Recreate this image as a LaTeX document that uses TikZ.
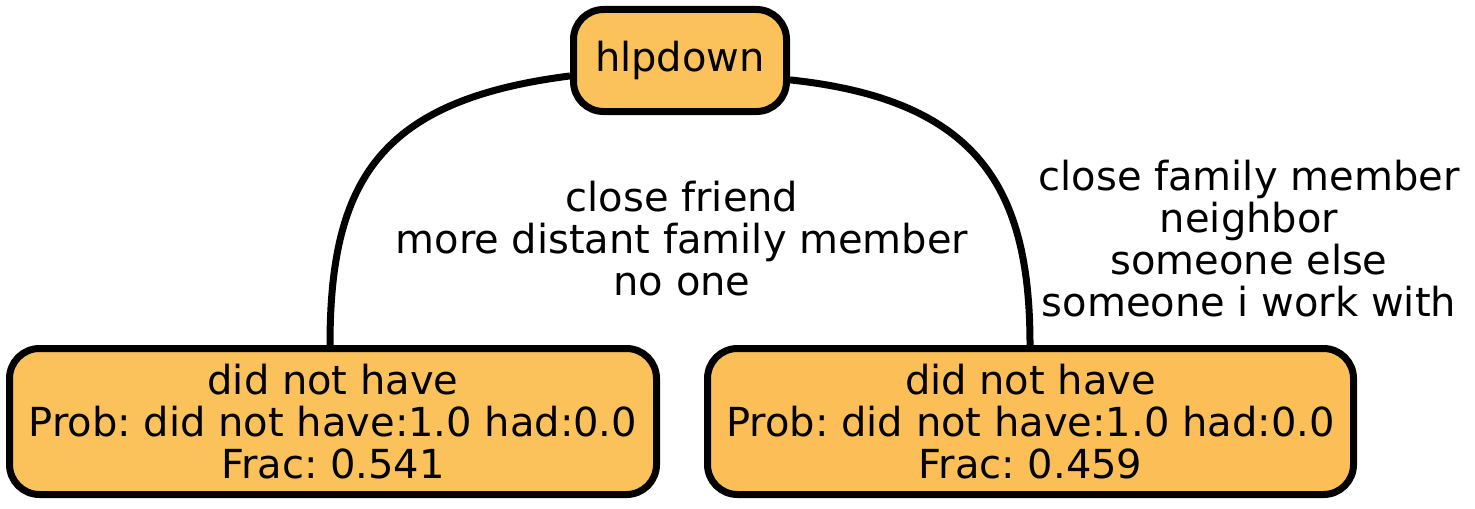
\documentclass[tikz,border=0pt]{standalone}
\usepackage{fontspec}
\setmainfont{DejaVu Sans}
\usetikzlibrary{positioning}
\definecolor{leafA}{HTML}{FBC15A}
\definecolor{leafB}{HTML}{FCBF57}
\frenchspacing

\begin{document}
\begin{tikzpicture}[x=0.5pt, y=-0.5pt,
  treenode/.style={draw, line width=3.5pt, rounded corners=15pt, align=center,
    font=\fontsize{20}{21}\selectfont, inner sep=0pt},
  edgeline/.style={line width=3.5pt},
  edgelabel/.style={align=center, font=\fontsize{20}{21}\selectfont}]
  \useasboundingbox (0,0) rectangle (1475,508);

  % Root
  \node[treenode, fill=leafA, minimum width=106.5pt, minimum height=51pt] (root) at (680,60.5) {hlpdown};

  % Leaves
  \node[treenode, fill=leafA, minimum width=323.5pt, minimum height=73pt] (leafl) at (333,421.5)
    {did not have\\Prob: did not have:1.0 had:0.0\\Frac: 0.541};
  \node[treenode, fill=leafB, minimum width=323pt, minimum height=73pt] (leafr) at (1030.5,421.5)
    {did not have\\Prob: did not have:1.0 had:0.0\\Frac: 0.459};

  % Splits
  \draw[edgeline] (root.188) .. controls (380,100) and (330,180) .. (leafl.north -| 330,0);
  \draw[edgeline] (root.-10) .. controls (980,100) and (1030,190) .. (leafr.north -| 1030,0);

  % Split labels
  \node[edgelabel] (lblleft) at (682,239) {close friend\\more distant family member\\no one};
  \node[edgelabel] (lblright) at (1249,239) {close family member\\neighbor\\someone else\\someone i work with};
\end{tikzpicture}
\end{document}
